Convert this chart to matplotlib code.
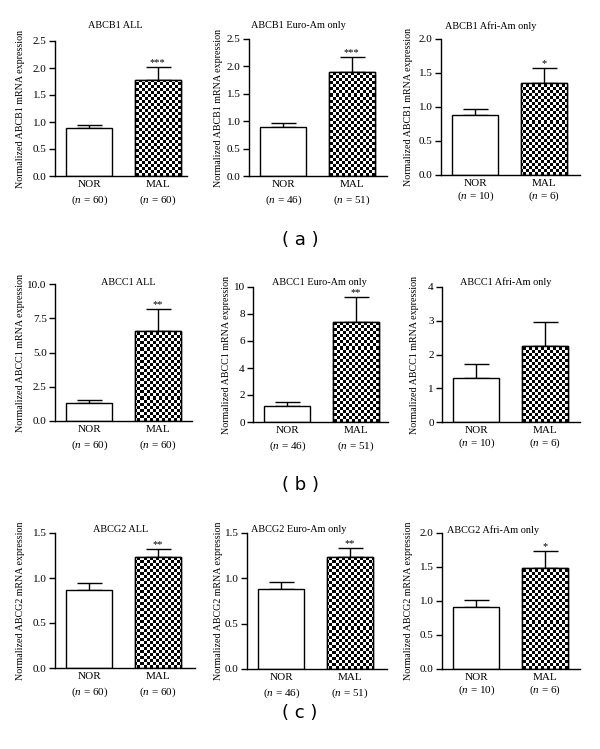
import numpy as np
import matplotlib
matplotlib.use("Agg")
import matplotlib.pyplot as plt

plt.rcParams['font.family'] = ['Liberation Serif', 'DejaVu Serif']
plt.rcParams['mathtext.fontset'] = 'custom'
plt.rcParams['mathtext.it'] = 'Liberation Serif:italic'
plt.rcParams['mathtext.rm'] = 'Liberation Serif'

# data
genes = ["ABCB1", "ABCC1", "ABCG2"]
groups = ["ALL", "Euro-Am only", "Afri-Am only"]
categories = ["NOR", "MAL"]
n_nor = [60, 46, 10]
n_mal = [60, 51, 6]
nor_mean = [[0.88, 0.90, 0.88], [1.30, 1.22, 1.30], [0.87, 0.88, 0.91]]
nor_top = [[0.94, 0.97, 0.97], [1.55, 1.50, 1.72], [0.94, 0.96, 1.01]]
mal_mean = [[1.78, 1.89, 1.35], [6.60, 7.43, 2.25], [1.23, 1.24, 1.48]]
mal_top = [[2.01, 2.17, 1.57], [8.20, 9.28, 2.95], [1.32, 1.33, 1.74]]
stars = [["***", "***", "*"], ["**", "**", ""], ["**", "**", "*"]]
y_max = [[2.5, 2.5, 2.0], [10, 10, 4], [1.5, 1.5, 2.0]]
y_step = [[0.5, 0.5, 0.5], [2.5, 2, 1], [0.5, 0.5, 0.5]]
y_fmt = [["%.1f"] * 3, ["%.1f", "%d", "%d"], ["%.1f"] * 3]
panel_tags = ["( a )", "( b )", "( c )"]

W, H = 600, 749
fig = plt.figure(figsize=(W / 100, H / 100), dpi=100)

# layout in pixels: (left, right, top, bottom) of each axes
axes_px = [[(55, 187, 41, 176), (249, 387, 39, 176), (441, 580, 39, 175)],
           [(55, 192, 284, 421), (253, 388, 287, 422), (442, 580, 287, 422)],
           [(55, 195, 533, 668), (247, 387, 533, 669), (442, 580, 533, 669)]]
title_px = [[(115, 26), (298, 25), (491, 26)],
            [(128, 282), (319, 282), (506, 282)],
            [(121, 530), (299, 530), (493, 530)]]
ylab_x = [[25, 223, 413], [25, 231, 419], [25, 223, 413]]
tag_y = [240, 485, 713]
unit = 68.5
bar_w = 46 / unit
cell = 3.0

for r in range(3):
    for c in range(3):
        left, right, top, bot = axes_px[r][c]
        ax_w = right - left
        ax_h = bot - top
        x_hi = -0.5 + ax_w / unit
        ax = fig.add_axes([left / W, 1 - bot / H, ax_w / W, ax_h / H])
        ax.set_xlim(-0.5, x_hi)
        ax.set_ylim(0, y_max[r][c])

        means = [nor_mean[r][c], mal_mean[r][c]]
        tops = [nor_top[r][c], mal_top[r][c]]
        xs = np.arange(2)
        bars = ax.bar(xs, means, width=bar_w, color="white", edgecolor="black",
                      linewidth=1.0, zorder=2)
        ax.errorbar(xs, means, yerr=[[0, 0], np.array(tops) - np.array(means)],
                    fmt="none", ecolor="black", elinewidth=1.0, capsize=9,
                    capthick=1.0, zorder=1)

        # checkerboard fill for MAL bar
        nx = int(ax_w / cell)
        ny = int(ax_h / cell)
        checker = (np.add.outer(np.arange(ny), np.arange(nx)) % 2).astype(float)
        im = ax.imshow(checker, cmap="gray_r", extent=(-0.5, x_hi, 0, y_max[r][c]),
                       aspect="auto", interpolation="nearest", origin="lower",
                       zorder=2.5)
        im.set_clip_path(bars[1])
        ax.bar(xs[1:], means[1:], width=bar_w, color="none", edgecolor="black",
               linewidth=1.0, zorder=3)

        if stars[r][c]:
            ax.annotate(stars[r][c], (1, tops[1]), xytext=(0, 0),
                        textcoords="offset points", ha="center", va="bottom",
                        fontsize=7.5)

        ticks = np.arange(0, y_max[r][c] + 1e-9, y_step[r][c])
        ax.set_yticks(ticks)
        ax.set_yticklabels([y_fmt[r][c] % t for t in ticks])
        sp = 1.45 if c < 2 else 1.15
        ax.set_xticks(xs)
        ax.set_xticklabels([f"{categories[0]}\n($n$ = {n_nor[c]})",
                            f"{categories[1]}\n($n$ = {n_mal[c]})"],
                           linespacing=sp)
        ax.tick_params(axis="x", length=0, pad=3, labelsize=8)
        ax.tick_params(axis="y", length=4, width=1.0, direction="out", pad=2,
                       labelsize=8)
        for s in ["top", "right"]:
            ax.spines[s].set_visible(False)
        for s in ["left", "bottom"]:
            ax.spines[s].set_linewidth(1.0)

        ax.set_ylabel(f"Normalized {genes[r]} mRNA expression", fontsize=7.2)
        ax.yaxis.set_label_coords((ylab_x[r][c] - left) / ax_w, 0.5)

        tx, ty = title_px[r][c]
        fig.text(tx / W, 1 - ty / H, f"{genes[r]} {groups[c]}", ha="center",
                 va="center", fontsize=7.4)

    fig.text(0.5, 1 - tag_y[r] / H, panel_tags[r], ha="center", va="center",
             fontsize=13, family="DejaVu Sans")

fig.savefig("out.png", dpi=100)
